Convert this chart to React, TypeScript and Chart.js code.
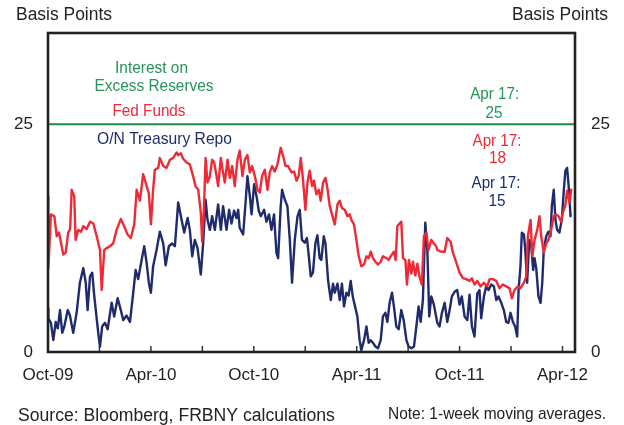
import React, { useEffect, useRef } from 'react';
import { Chart, registerables } from 'chart.js';
Chart.register(...registerables);

// x values are months since Oct 1, 2009
const fedFundsT = [0, 0.02, 0.17, 0.37, 0.51, 0.64, 0.89, 1.03, 1.18, 1.29, 1.38, 1.53, 1.61, 1.76, 1.92, 2.06, 2.25, 2.45, 2.64, 2.84, 3.03, 3.13, 3.28, 3.42, 3.61, 3.8, 4.0, 4.25, 4.44, 4.64, 4.83, 5.03, 5.17, 5.36, 5.55, 5.75, 5.88, 6.0, 6.13, 6.23, 6.43, 6.52, 6.72, 6.91, 7.11, 7.3, 7.5, 7.59, 7.75, 7.88, 8.08, 8.27, 8.46, 8.6, 8.76, 8.91, 8.99, 9.1, 9.19, 9.3, 9.44, 9.57, 9.69, 9.83, 9.92, 10.08, 10.18, 10.31, 10.47, 10.6, 10.74, 10.89, 11.05, 11.18, 11.34, 11.48, 11.63, 11.77, 11.9, 12.06, 12.22, 12.35, 12.48, 12.64, 12.8, 12.93, 13.07, 13.22, 13.38, 13.57, 13.71, 13.85, 14.0, 14.2, 14.35, 14.49, 14.62, 14.74, 14.87, 15.01, 15.13, 15.26, 15.4, 15.51, 15.65, 15.79, 15.9, 16.04, 16.18, 16.29, 16.43, 16.56, 16.72, 16.88, 17.01, 17.14, 17.3, 17.46, 17.59, 17.69, 17.84, 17.98, 18.12, 18.27, 18.43, 18.57, 18.7, 18.82, 18.95, 19.09, 19.24, 19.4, 19.53, 19.73, 19.86, 20.02, 20.17, 20.27, 20.37, 20.5, 20.6, 20.7, 20.84, 20.93, 21.05, 21.19, 21.28, 21.42, 21.54, 21.67, 21.8, 21.92, 22.06, 22.19, 22.35, 22.5, 22.64, 22.7, 22.93, 23.13, 23.28, 23.48, 23.61, 23.81, 24.0, 24.19, 24.39, 24.58, 24.72, 24.87, 25.03, 25.22, 25.42, 25.61, 25.75, 25.94, 26.14, 26.33, 26.52, 26.72, 26.91, 27.05, 27.2, 27.4, 27.55, 27.75, 27.89, 27.98, 28.14, 28.24, 28.37, 28.53, 28.66, 28.76, 28.91, 29.05, 29.18, 29.34, 29.49, 29.63, 29.77, 29.92, 30.02, 30.16, 30.27, 30.41, 30.51];
const fedFundsV = [17.1, 9.2, 15.1, 14.9, 12.7, 13.1, 10.7, 10.9, 13.1, 13.5, 17.8, 17.1, 12.3, 13.4, 13.2, 13.8, 13.5, 14.3, 14.1, 12.7, 11.2, 6.8, 11.2, 11.4, 11.6, 11.9, 13.4, 14.6, 13.8, 12.9, 12.5, 14.0, 17.8, 16.6, 19.5, 18.2, 17.4, 14.0, 17.8, 20.0, 20.2, 21.3, 20.4, 20.2, 21.1, 21.3, 21.9, 21.6, 21.8, 21.2, 20.8, 20.6, 19.3, 18.2, 17.8, 15.3, 12.1, 16.1, 21.3, 18.6, 19.3, 21.1, 20.8, 19.3, 18.2, 21.3, 20.0, 18.6, 21.1, 19.1, 20.4, 18.2, 21.1, 22.1, 19.3, 21.1, 21.6, 19.7, 20.4, 19.3, 17.8, 17.5, 19.3, 20.0, 17.8, 19.7, 20.4, 19.8, 20.6, 22.4, 21.5, 20.4, 20.4, 19.7, 19.8, 18.8, 19.3, 21.3, 18.9, 15.6, 18.6, 19.9, 18.2, 18.8, 17.3, 17.8, 16.6, 18.6, 19.1, 18.0, 16.0, 15.1, 14.0, 16.2, 16.6, 15.8, 15.6, 14.9, 15.1, 14.5, 14.0, 12.3, 10.5, 9.4, 9.6, 10.5, 10.3, 11.0, 10.3, 9.9, 9.6, 9.9, 10.5, 10.3, 10.1, 10.6, 11.0, 10.1, 13.8, 14.1, 14.3, 10.3, 10.1, 7.4, 10.1, 8.6, 9.9, 8.4, 9.7, 8.2, 7.4, 12.7, 13.1, 11.2, 12.3, 11.9, 11.6, 11.2, 11.0, 11.0, 12.5, 12.1, 10.9, 9.8, 8.7, 8.1, 8.0, 7.8, 8.1, 7.4, 7.8, 7.2, 7.6, 7.2, 8.0, 8.0, 7.8, 7.0, 7.4, 7.2, 7.0, 5.9, 6.8, 7.2, 7.0, 7.6, 8.3, 12.7, 14.5, 10.5, 12.3, 13.4, 14.9, 12.7, 10.9, 11.9, 12.3, 13.4, 14.9, 15.1, 14.9, 14.3, 15.3, 16.0, 17.7, 16.4, 17.8];

const repoT = [0, 0.02, 0.17, 0.31, 0.45, 0.57, 0.7, 0.83, 0.95, 1.15, 1.28, 1.47, 1.67, 1.86, 2.06, 2.2, 2.31, 2.45, 2.58, 2.7, 2.93, 3.03, 3.16, 3.32, 3.48, 3.71, 3.86, 4.06, 4.19, 4.39, 4.58, 4.78, 4.97, 5.11, 5.26, 5.46, 5.61, 5.75, 5.88, 6.0, 6.13, 6.33, 6.52, 6.72, 6.86, 7.05, 7.24, 7.4, 7.59, 7.79, 7.94, 8.14, 8.27, 8.41, 8.56, 8.72, 8.91, 9.05, 9.19, 9.3, 9.44, 9.57, 9.73, 9.92, 10.08, 10.21, 10.41, 10.56, 10.7, 10.85, 10.99, 11.09, 11.18, 11.38, 11.52, 11.63, 11.77, 11.87, 12.02, 12.16, 12.29, 12.41, 12.6, 12.74, 12.89, 13.03, 13.18, 13.32, 13.42, 13.57, 13.65, 13.81, 13.96, 14.1, 14.23, 14.39, 14.55, 14.68, 14.81, 14.97, 15.1, 15.21, 15.32, 15.45, 15.59, 15.71, 15.84, 15.94, 16.08, 16.18, 16.33, 16.49, 16.62, 16.72, 16.88, 17.01, 17.14, 17.26, 17.4, 17.53, 17.65, 17.78, 17.88, 18.04, 18.17, 18.27, 18.43, 18.57, 18.7, 18.82, 18.95, 19.09, 19.24, 19.4, 19.53, 19.67, 19.79, 19.92, 20.06, 20.17, 20.31, 20.45, 20.6, 20.74, 20.9, 21.03, 21.19, 21.34, 21.48, 21.61, 21.73, 21.86, 22.0, 22.12, 22.23, 22.35, 22.5, 22.7, 22.83, 22.97, 23.13, 23.28, 23.42, 23.55, 23.71, 23.86, 24.0, 24.13, 24.29, 24.45, 24.58, 24.72, 24.87, 25.03, 25.16, 25.26, 25.42, 25.55, 25.69, 25.85, 26.0, 26.14, 26.27, 26.43, 26.58, 26.72, 26.85, 26.97, 27.11, 27.24, 27.36, 27.44, 27.55, 27.63, 27.75, 27.83, 27.94, 28.06, 28.18, 28.29, 28.37, 28.47, 28.6, 28.72, 28.82, 28.91, 29.05, 29.18, 29.3, 29.38, 29.49, 29.59, 29.69, 29.82, 29.96, 30.08, 30.17, 30.27, 30.36, 30.47];
const repoV = [4.8, 3.7, 3.2, 1.3, 3.3, 2.6, 4.6, 2.1, 2.8, 4.6, 4.0, 2.1, 4.3, 7.6, 9.2, 7.6, 4.6, 8.3, 8.7, 6.1, 2.1, 0.6, 2.8, 3.2, 2.5, 5.4, 3.9, 5.9, 5.0, 3.5, 4.0, 3.3, 6.5, 9.0, 8.0, 10.1, 11.6, 9.8, 7.6, 6.5, 9.4, 11.2, 13.2, 11.9, 9.5, 11.6, 11.9, 11.6, 16.4, 14.5, 13.1, 14.7, 13.4, 10.5, 12.3, 11.4, 8.5, 12.0, 16.7, 14.5, 13.4, 14.9, 13.4, 16.2, 13.4, 16.0, 13.4, 15.6, 14.1, 15.5, 14.7, 15.6, 13.6, 12.9, 16.4, 19.3, 17.1, 15.1, 18.4, 17.1, 15.5, 14.9, 15.6, 14.3, 15.1, 13.4, 15.1, 10.9, 10.3, 16.0, 17.8, 16.7, 16.0, 12.3, 7.6, 12.3, 14.9, 15.6, 12.3, 12.0, 12.5, 10.5, 8.3, 8.7, 11.9, 12.8, 10.3, 10.1, 12.7, 11.9, 7.9, 5.7, 7.5, 6.5, 7.5, 5.7, 7.5, 5.0, 6.5, 6.2, 7.8, 6.0, 5.2, 3.9, 1.3, 0.2, 1.3, 2.8, 1.0, 1.3, 1.0, 0.6, 0.4, 1.3, 3.9, 4.3, 3.3, 5.4, 6.5, 5.0, 2.8, 2.5, 4.6, 3.5, 1.3, 0.6, 0.4, 0.6, 2.8, 5.0, 3.3, 5.7, 14.2, 11.2, 3.9, 6.1, 5.2, 3.2, 2.8, 4.3, 5.4, 3.3, 4.6, 6.1, 6.6, 6.8, 5.2, 6.1, 3.9, 3.5, 6.3, 2.8, 1.7, 6.4, 6.8, 3.7, 6.1, 7.2, 6.8, 7.4, 7.2, 5.7, 6.1, 5.4, 4.6, 3.3, 3.2, 4.3, 3.3, 2.8, 1.7, 6.8, 9.4, 13.1, 12.9, 11.2, 7.6, 12.3, 11.6, 9.0, 10.3, 9.2, 6.1, 5.4, 7.6, 11.2, 12.7, 13.2, 12.7, 16.0, 17.8, 14.5, 13.4, 13.1, 14.5, 17.8, 19.9, 20.2, 18.2, 14.9];

const ioerT = [0, 30.73];
const ioerV = [25, 25];

const xTickMonths = [0, 3, 6, 9, 12, 15, 18, 21, 24, 27, 30];
const xTickLabels = ['Oct-09', '', 'Apr-10', '', 'Oct-10', '', 'Apr-11', '', 'Oct-11', '', 'Apr-12'];
const yTickValues = [0, 25];
const X_MIN = 0;
const X_MAX = 30.73;
const Y_MIN = 0;
const Y_MAX = 35;

const RED = '#ee2a36';
const NAVY = '#1f2b6c';
const GREEN = '#1e8b47';
const GREEN_TEXT = '#26945a';
const INK = '#222222';
const FONT = '"Liberation Sans", Arial, sans-serif';

const pts = (t: number[], v: number[]) => t.map((x, i) => ({ x, y: v[i] }));

const decorPlugin = {
  id: 'decor',
  afterDatasetsDraw(chart: any) {
    const { ctx, chartArea: a, scales } = chart;
    ctx.save();
    // inward tick marks on the bottom axis
    ctx.strokeStyle = '#333';
    ctx.lineWidth = 1.5;
    xTickMonths.forEach((m) => {
      const px = scales.x.getPixelForValue(m);
      ctx.beginPath();
      ctx.moveTo(px, a.bottom);
      ctx.lineTo(px, a.bottom - 6);
      ctx.stroke();
    });
    // frame
    ctx.lineWidth = 2.6;
    ctx.strokeStyle = INK;
    ctx.strokeRect(a.left, a.top, a.right - a.left, a.bottom - a.top);

    const text = (s: string, x: number, y: number, color: string, align: CanvasTextAlign, maxW?: number, size = 17) => {
      ctx.font = `${size}px ${FONT}`;
      ctx.fillStyle = color;
      ctx.textAlign = align;
      ctx.textBaseline = 'alphabetic';
      if (maxW) ctx.fillText(s, x, y, maxW);
      else ctx.fillText(s, x, y);
    };
    // axis titles
    text('Basis Points', 16, 20, INK, 'left', 96, 17.5);
    text('Basis Points', 608, 20, INK, 'right', 96, 17.5);
    // series labels
    text('Interest on', 151.5, 72.5, GREEN_TEXT, 'center', 73);
    text('Excess Reserves', 154, 91, GREEN_TEXT, 'center', 119);
    text('Fed Funds', 149, 116, RED, 'center', 73);
    text('O/N Treasury Repo', 164.5, 144, NAVY, 'center', 135);
    // latest values
    text('Apr 17:', 494.7, 99.3, GREEN_TEXT, 'center', 49);
    text('25', 494, 118.3, GREEN_TEXT, 'center', 17);
    text('Apr 17:', 497, 145.7, RED, 'center', 49);
    text('18', 497.5, 163.3, RED, 'center', 17);
    text('Apr 17:', 496, 187.7, NAVY, 'center', 49);
    text('15', 497, 205.7, NAVY, 'center', 17);
    // footer
    text('Source: Bloomberg, FRBNY calculations', 18, 420.5, INK, 'left', 317, 17.6);
    text('Note: 1-week moving averages.', 606, 419, INK, 'right', 218);
    ctx.restore();
  },
};

export default function App() {
  const ref = useRef<HTMLCanvasElement | null>(null);
  useEffect(() => {
    document.body.style.margin = '0';
    const canvas = ref.current!;
    const yAxisCommon = {
      min: Y_MIN,
      max: Y_MAX,
      grid: { display: false, drawTicks: false },
      border: { display: false },
      afterBuildTicks: (s: any) => {
        s.ticks = yTickValues.map((v) => ({ value: v }));
      },
    };
    const lineStyle = { borderWidth: 2.4, pointRadius: 0, tension: 0, yAxisID: 'y', borderJoinStyle: 'round', borderCapStyle: 'round' };
    const chart = new Chart(canvas, {
      type: 'line',
      data: {
        datasets: [
          { label: 'Fed Funds', data: pts(fedFundsT, fedFundsV), borderColor: RED, ...lineStyle },
          { label: 'O/N Treasury Repo', data: pts(repoT, repoV), borderColor: NAVY, ...lineStyle },
          { label: 'Interest on Excess Reserves', data: pts(ioerT, ioerV), borderColor: GREEN, ...lineStyle, borderWidth: 2 },
        ],
      },
      options: {
        animation: false,
        responsive: false,
        devicePixelRatio: 1,
        layout: { padding: { top: 33, left: 0, right: 0, bottom: 0 } },
        plugins: { legend: { display: false }, tooltip: { enabled: false } },
        scales: {
          x: {
            type: 'linear',
            min: X_MIN,
            max: X_MAX,
            grid: { display: false, drawTicks: false },
            border: { display: false },
            afterBuildTicks: (s: any) => {
              s.ticks = xTickMonths.map((v) => ({ value: v }));
            },
            afterFit: (s: any) => {
              s.height = 73;
            },
            ticks: {
              autoSkip: false,
              maxRotation: 0,
              padding: 13,
              color: INK,
              font: { family: FONT, size: 17 },
              callback: (_v: any, i: number) => xTickLabels[i],
            },
          },
          y: {
            ...yAxisCommon,
            position: 'left',
            afterFit: (s: any) => {
              s.width = 48;
            },
            ticks: { padding: 15, color: INK, font: { family: FONT, size: 17 } },
          },
          y2: {
            ...yAxisCommon,
            position: 'right',
            afterFit: (s: any) => {
              s.width = 49;
            },
            ticks: { padding: 16, color: INK, font: { family: FONT, size: 17 } },
          },
        },
      } as any,
      plugins: [decorPlugin],
    });
    return () => chart.destroy();
  }, []);
  return (
    <div style={{ width: 624, height: 425, background: '#fff' }}>
      <canvas ref={ref} width={624} height={425} style={{ width: 624, height: 425, display: 'block' }} />
    </div>
  );
}
